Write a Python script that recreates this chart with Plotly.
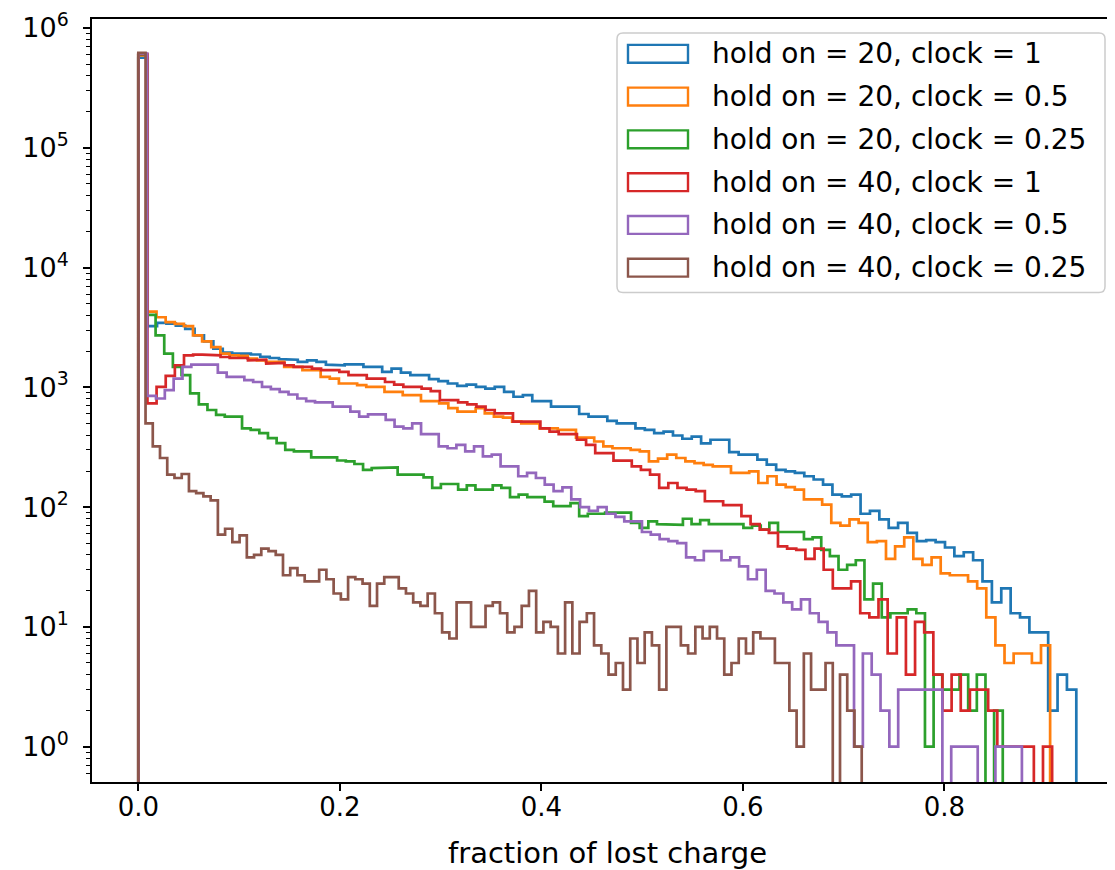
import numpy as np
import plotly.graph_objects as go

# ---------------- data (histogram counts, 100 bins from 0 to each series' max) ----------------
labels = [
    "hold on = 20, clock = 1",
    "hold on = 20, clock = 0.5",
    "hold on = 20, clock = 0.25",
    "hold on = 40, clock = 1",
    "hold on = 40, clock = 0.5",
    "hold on = 40, clock = 0.25",
]
colors = ["#1f77b4", "#ff7f0e", "#2ca02c", "#d62728", "#9467bd", "#8c564b"]
max_fraction = [0.931, 0.905, 0.858, 0.907, 0.877, 0.718]

counts_h20_c1 = [
    565000,
    3240, 3450, 3400, 3280, 3076, 2710, 2420, 2100, 1950, 1910, 1910, 1880, 1800, 1757, 1720, 1700, 1630, 1680, 1630, 1545,
    1528, 1556, 1556, 1479, 1479, 1345, 1433, 1328, 1263, 1263, 1170, 1126, 1076, 1028, 1055, 1009, 977, 1009, 918, 834,
    861, 768, 768, 689, 689, 689, 599, 569, 569, 525, 501, 501, 455, 442, 414, 427, 396, 372, 388, 340,
    365, 365, 288, 274, 274, 249, 226, 205, 199, 193, 181, 170, 154, 127, 123, 127, 88, 93, 79, 67,
    74, 61, 52, 53, 51, 46, 39, 42, 36, 24, 16, 21, 13, 12, 9, 9, 2, 4, 3,
]
counts_h20_c05 = [
    590000,
    4290, 3846, 3497, 3388, 3240, 2710, 2417, 2168, 1910, 1850, 1830, 1734, 1680, 1628, 1628, 1479, 1479, 1390, 1390, 1222,
    1183, 1076, 1076, 1043, 1009, 1009, 918, 918, 861, 861, 768, 768, 735, 670, 627, 627, 670, 607, 569, 559, 518,
    501, 501, 455, 455, 442, 442, 381, 381, 353, 321, 310, 310, 300, 292, 241, 254, 274, 257, 241, 233, 225,
    219, 219, 193, 193, 199, 159, 181, 154, 147, 140, 116, 116, 105, 74, 70, 79, 74, 51, 52, 37,
    47, 56, 37, 33, 38, 28, 27, 27, 24, 21, 12, 7, 5, 6, 6, 5, 7,
]
counts_h20_c025 = [
    600000,
    4020, 2710, 1910, 1479, 1263, 889, 720, 647, 588, 569, 569, 455, 442, 414, 376, 342, 301, 292, 292, 260, 260,
    260, 245, 241, 229, 205, 212, 212, 215, 187, 187, 187, 177, 145, 156, 156, 140, 152, 140, 140, 152, 145,
    121, 127, 121, 121, 111, 102, 102, 108, 84, 88, 88, 90, 90, 90, 74, 67, 76, 72, 71, 71, 80, 72,
    78, 72, 72, 72, 72, 67, 70, 65, 74, 62, 62, 62, 54, 56, 44, 39, 30, 33, 36, 17, 23, 12,
    13, 13, 14, 13, 1, 4, 3, 3, 4, 2, 4, 0, 2,
]
counts_h40_c1 = [
    605000,
    735, 1009, 1245, 1528, 1850, 1872, 1872, 1850, 1791, 1757, 1757, 1682, 1700, 1577, 1600, 1528, 1479, 1479, 1433, 1390,
    1390, 1345, 1263, 1263, 1183, 1183, 1108, 1055, 1009, 1009, 977, 929, 783, 783, 748, 720, 689, 647, 606, 606, 518,
    518, 518, 455, 427, 406, 406, 365, 331, 282, 282, 244, 244, 219, 205, 187, 145, 159, 145, 140, 136, 112,
    112, 104, 104, 84, 72, 65, 61, 47, 45, 44, 37, 45, 30, 21, 21, 24, 13, 12, 17,
    6, 12, 4, 11, 9, 4, 2, 4, 2, 3, 3, 2, 1, 1, 1, 1, 0, 1,
]
counts_h40_c05 = [
    610000,
    850, 807, 948, 1183, 1479, 1545, 1545, 1545, 1328, 1222, 1222, 1148, 1108, 1009, 966, 918, 871, 807, 768, 748, 748,
    689, 689, 627, 569, 595, 595, 534, 470, 455, 501, 406, 406, 321, 310, 331, 292, 321, 265, 274, 219, 219,
    181, 193, 175, 154, 136, 146, 116, 100, 93, 100, 88, 83, 76, 76, 62, 59, 54, 52, 50, 38, 36, 43,
    43, 36, 38, 32, 25, 30, 20, 19, 16, 14, 17, 13, 11, 9, 7, 7, 1,
    6, 4, 2, 1, 3, 3, 3, 3, 3, 0, 1, 1, 1, 0, 0, 1, 1, 1,
]
counts_h40_c025 = [
    620000,
    500, 321, 257, 187, 175, 189, 136, 131, 123, 114, 59, 66, 51, 58, 38, 40, 45, 43, 40,
    27, 31, 27, 24, 24, 30, 25, 19, 17, 26, 25, 23, 15, 23, 26, 26, 21, 19, 16, 15,
    19, 13, 9, 8, 16, 16, 10, 10, 15, 16, 13, 9, 10, 15, 20, 9, 11, 10, 6, 16,
    6, 11, 13, 7, 6, 4, 5, 3, 8, 5, 9, 7, 3, 10, 10, 7, 6, 10, 8, 10,
    8, 4, 5, 8, 6, 9, 8, 8, 5, 5, 2, 1, 6, 3, 3, 5, 0, 4, 2, 1,
]
all_counts = [counts_h20_c1, counts_h20_c05, counts_h20_c025,
              counts_h40_c1, counts_h40_c05, counts_h40_c025]

x_ticks = [0.0, 0.2, 0.4, 0.6, 0.8]
y_decades = [0, 1, 2, 3, 4, 5, 6]

# ---------------- figure ----------------
# the page body has an 8px margin; the figure is offset by it
OFF = 8
W, H = 1107, 862
ML, MR, MT, MB = 84, 0, 7, 88
PW, PH = W - ML - MR, H - MT - MB
FONT = "DejaVu Sans"
FLOOR = 1e-2  # where empty bins go (below visible range, like log(0))


def px(x):
    """page pixel x -> paper coordinate"""
    return (x - OFF - ML) / PW


def py(y):
    """page pixel y -> paper coordinate"""
    return (OFF + H - MB - y) / PH


fig = go.Figure()
for lab, col, mx, cnt in zip(labels, colors, max_fraction, all_counts):
    c = np.array(cnt, dtype=float)
    c[c <= 0] = FLOOR
    edges = np.linspace(0, mx, len(c) + 1)
    xs = np.concatenate([[edges[0]], np.column_stack([edges[:-1], edges[1:]]).ravel(), [edges[-1]]])
    ys = np.concatenate([[FLOOR], np.repeat(c, 2), [FLOOR]])
    fig.add_trace(go.Scatter(x=xs, y=ys, mode="lines", name=lab,
                             line=dict(color=col, width=2.7), showlegend=False,
                             hoverinfo="skip"))

minor_vals = [m * 10.0 ** k for k in range(-1, 7) for m in range(2, 10)]

fig.update_layout(
    width=W, height=H,
    margin=dict(l=ML, r=MR, t=MT, b=MB, pad=0),
    plot_bgcolor="white", paper_bgcolor="white",
    font=dict(family=FONT, color="black"),
    showlegend=False,
)
fig.update_xaxes(
    range=[-0.04596, 0.9694],
    showgrid=False, zeroline=False,
    showline=True, linecolor="black", linewidth=1.8, mirror=True,
    ticks="outside", ticklen=7, tickwidth=1.6, tickcolor="black",
    tickmode="array", tickvals=x_ticks, ticktext=[f"{v:.1f}" for v in x_ticks],
    tickfont=dict(family=FONT, size=26, color="black"),
    ticklabelstandoff=-6, ticklabeloverflow="allow",
)
fig.update_yaxes(
    type="log", range=[-0.2946, 6.0747],
    showgrid=False, zeroline=False,
    showline=True, linecolor="black", linewidth=1.8, mirror=False,
    ticks="outside", ticklen=7, tickwidth=1.6, tickcolor="black",
    tickmode="array", tickvals=[10.0 ** d for d in y_decades],
    ticktext=[f"10<sup>{d}</sup>" for d in y_decades],
    tickfont=dict(family=FONT, size=27, color="black"),
    ticklabelstandoff=9, ticklabeloverflow="allow",
    minor=dict(tickmode="array", tickvals=minor_vals, ticks="outside",
               ticklen=4, tickwidth=1.2, tickcolor="black", showgrid=False),
)

# x-axis label
fig.add_annotation(text="fraction of lost charge", xref="paper", yref="paper",
                   x=px(607), y=py(853), showarrow=False,
                   font=dict(family=FONT, size=29, color="black"),
                   xanchor="center", yanchor="middle")

# legend (drawn manually to mimic matplotlib patch legend)
x0, x1, y0, y1, r = 617, 1105, 29, 290, 6
path = (f"M {px(x0 + r)},{py(y0)} L {px(x1 - r)},{py(y0)} Q {px(x1)},{py(y0)} {px(x1)},{py(y0 + r)} "
        f"L {px(x1)},{py(y1 - r)} Q {px(x1)},{py(y1)} {px(x1 - r)},{py(y1)} "
        f"L {px(x0 + r)},{py(y1)} Q {px(x0)},{py(y1)} {px(x0)},{py(y1 - r)} "
        f"L {px(x0)},{py(y0 + r)} Q {px(x0)},{py(y0)} {px(x0 + r)},{py(y0)} Z")
fig.add_shape(type="path", path=path, xref="paper", yref="paper",
              line=dict(color="#cccccc", width=1.5), fillcolor="rgba(255,255,255,0.8)",
              layer="above")
row_y = [50, 93, 136, 179, 222, 265]
for lab, col, yc in zip(labels, colors, row_y):
    fig.add_shape(type="rect", xref="paper", yref="paper",
                  x0=px(628), x1=px(688), y0=py(yc + 9), y1=py(yc - 9),
                  line=dict(color=col, width=2.4), fillcolor="rgba(0,0,0,0)", layer="above")
    fig.add_annotation(text=lab, xref="paper", yref="paper", x=px(710), y=py(yc),
                       showarrow=False, xanchor="left", yanchor="middle",
                       font=dict(family=FONT, size=28, color="black"))

fig.write_html("out.html")
